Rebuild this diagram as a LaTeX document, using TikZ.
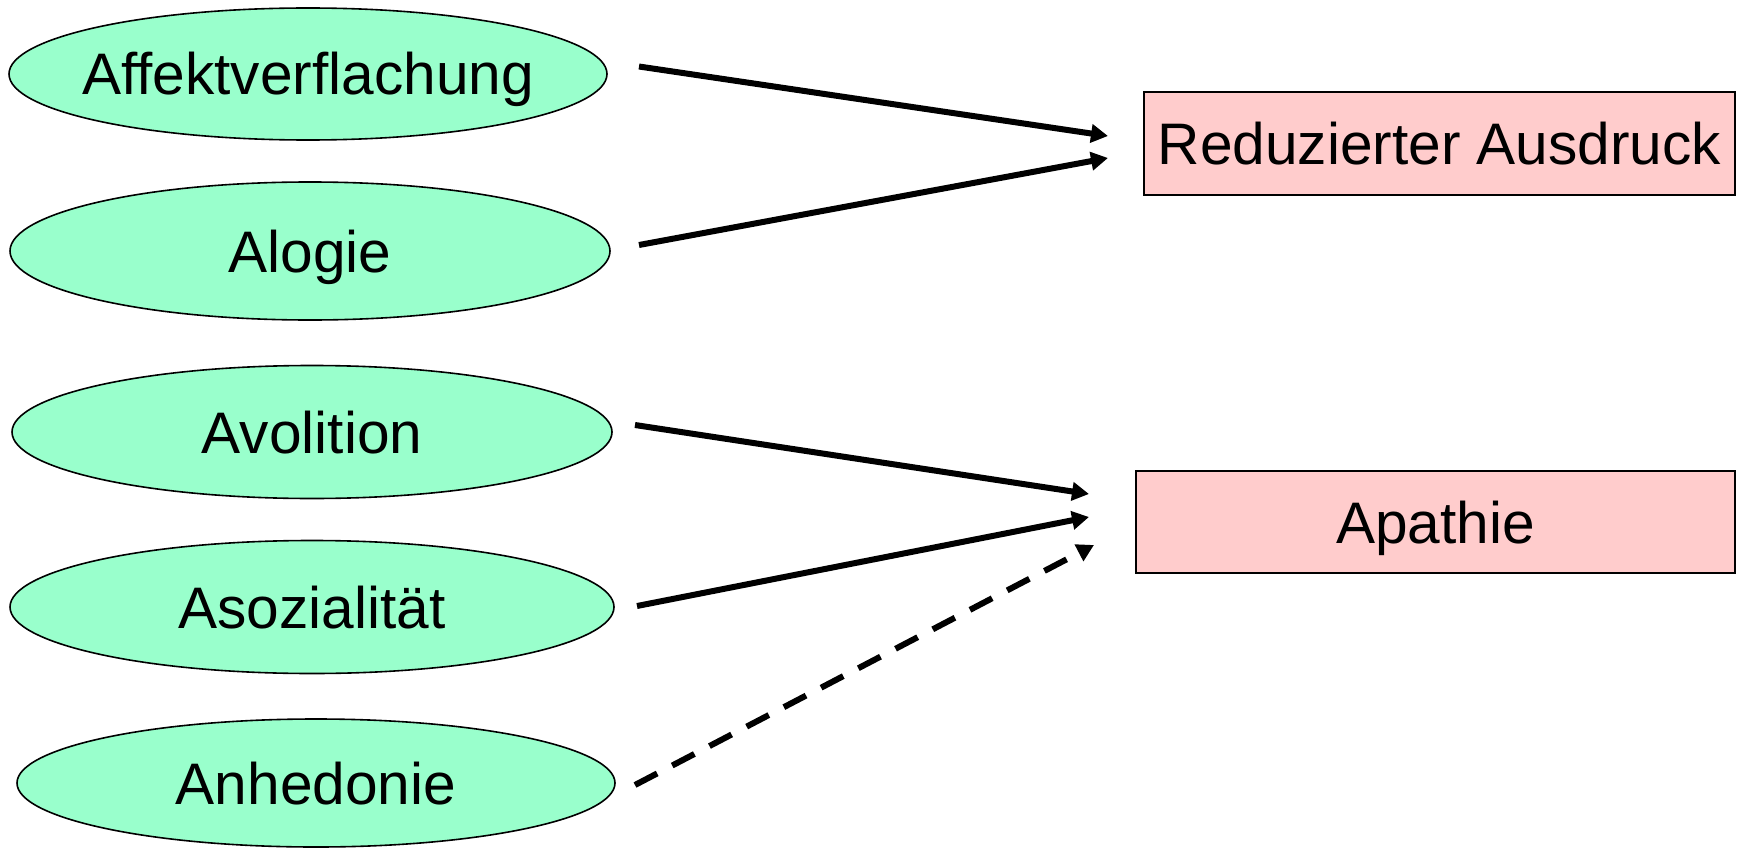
\documentclass[tikz,border=0pt]{standalone}
\usepackage{fontspec}
\setmainfont{Liberation Sans}
\usetikzlibrary{shapes.geometric,arrows.meta}
\definecolor{ellfill}{HTML}{99FFCC}
\definecolor{boxfill}{HTML}{FFCCCC}
\begin{document}
\begin{tikzpicture}[x=1pt,y=-1pt,
  oval/.style={ellipse, draw=black, line width=1.6pt, fill=ellfill, inner ysep=0pt, inner xsep=-80pt,
     font=\fontsize{58.6}{61}\selectfont, text height=48pt, text depth=6pt},
  tgt/.style={rectangle, draw=black, line width=1.6pt, fill=boxfill, inner sep=0pt,
     font=\fontsize{58.6}{61}\selectfont, text height=48pt, text depth=6pt},
  arr/.style={line width=6pt, -{Triangle[length=17pt,width=18pt]}},
  darr/.style={arr, dash pattern=on 25pt off 17pt}]
\useasboundingbox (0,0) rectangle (1737,848);
\node[oval, minimum width=598pt, minimum height=132pt] (e1) at (308,74) {Affektverflachung};
\node[oval, minimum width=600pt, minimum height=138pt] (e2) at (310,251) {Alogie};
\node[oval, minimum width=600pt, minimum height=133pt] (e3) at (312,432) {Avolition};
\node[oval, minimum width=604pt, minimum height=133pt] (e4) at (312,607) {Asozialität};
\node[oval, minimum width=598pt, minimum height=128pt] (e5) at (316,783) {Anhedonie};
\node[tgt, minimum width=591pt, minimum height=103pt] (b1) at (1439.5,143.5) {Reduzierter Ausdruck};
\node[tgt, minimum width=599pt, minimum height=102pt] (b2) at (1435.5,522) {Apathie};
\coordinate (s1) at (639,66.5);
\coordinate (t1) at (1108,136);
\coordinate (s2) at (639,245);
\coordinate (t2) at (1108,158);
\coordinate (s3) at (635,425);
\coordinate (t3) at (1089,494);
\coordinate (s4) at (637,606);
\coordinate (t4) at (1089,517);
\coordinate (s5) at (635,785);
\coordinate (t5) at (1094,545);
\draw[arr] (s1) -- (t1);
\draw[arr] (s2) -- (t2);
\draw[arr] (s3) -- (t3);
\draw[arr] (s4) -- (t4);
\draw[darr] (s5) -- (t5);
\end{tikzpicture}
\end{document}
